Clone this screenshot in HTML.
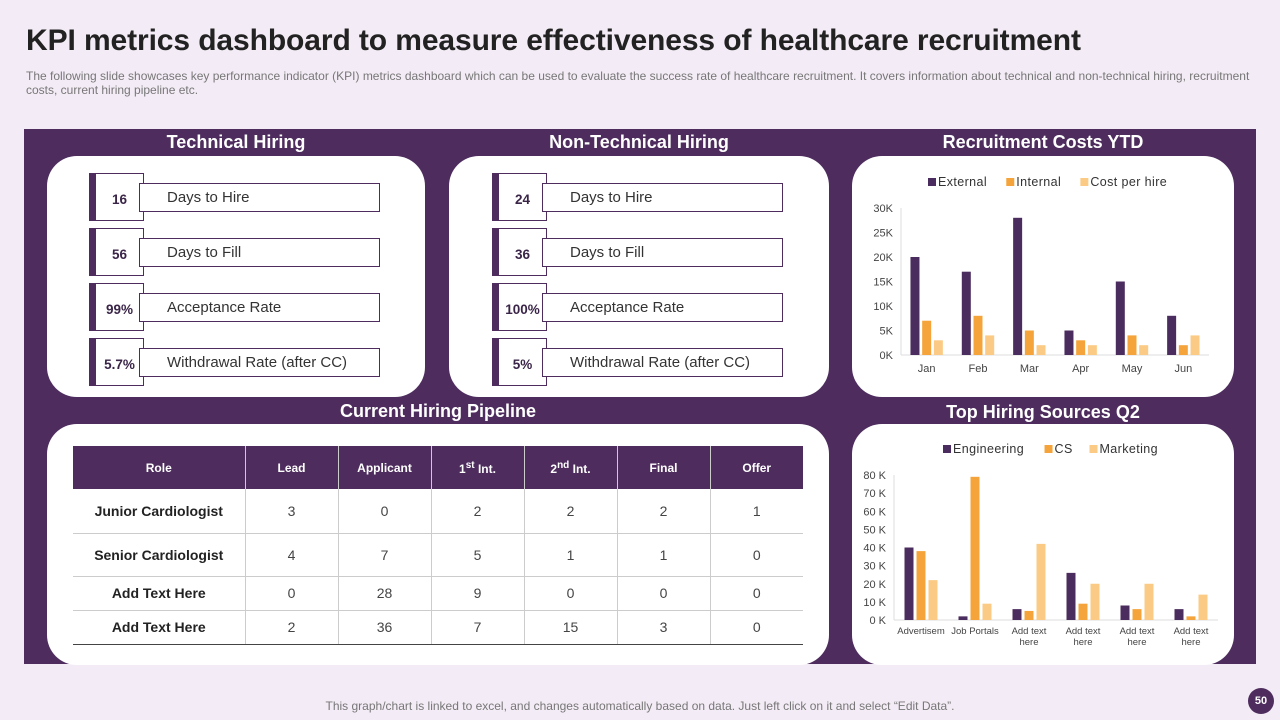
<!DOCTYPE html>
<html><head><meta charset="utf-8"><style>
*{margin:0;padding:0;box-sizing:border-box}
body{width:1280px;height:720px;background:#f3ebf5;font-family:"Liberation Sans",sans-serif;position:relative;overflow:hidden}
.abs{position:absolute}
h1{position:absolute;left:26px;top:24px;font-size:30px;font-weight:bold;color:#222;letter-spacing:-0.1px}
.sub{left:26px;top:69px;width:1240px;font-size:12px;color:#777;line-height:14px;white-space:nowrap}
.panel{left:24px;top:129px;width:1232px;height:535px;background:#4e2d5e}
.card{background:#fff;border-radius:30px}
.ttl{color:#fff;font-weight:bold;font-size:18px;text-align:center}
.num{width:55px;height:48px;border:1px solid #4e2d5e;border-left:7px solid #4e2d5e;background:#fff;font-weight:bold;font-size:13.5px;color:#3a2548;display:flex;align-items:center;justify-content:center;padding-top:4px}
.lab{width:241px;height:29px;border:1px solid #4e2d5e;background:#fff;font-size:15px;color:#333;padding-left:27px;line-height:27px}
table{border-collapse:collapse;position:absolute;left:73px;top:446px;width:730px;table-layout:fixed}
th{background:#4e2d5e;color:#fff;font-size:12px;height:43px;border-right:1px solid #ccc}
td{text-align:center;font-size:14px;color:#444;border-right:1px solid #ccc;border-bottom:1px solid #ccc}
td.r{font-weight:bold;color:#222}
tr:last-child td{border-bottom:1px solid #444}
.foot{left:0;width:1280px;top:699px;text-align:center;font-size:12px;color:#777}
.pg{left:1248px;top:688px;width:26px;height:26px;border-radius:50%;background:#4e2d5e;color:#fff;font-size:11px;font-weight:bold;text-align:center;line-height:26px}
</style></head><body>
<h1>KPI metrics dashboard to measure effectiveness of healthcare recruitment</h1>
<div class="abs sub">The following slide showcases key performance indicator (KPI) metrics dashboard which can be used to evaluate the success rate of healthcare recruitment. It covers information about technical and non-technical hiring, recruitment<br>costs, current hiring pipeline etc.</div>
<div class="abs panel"></div>

<div class="abs ttl" style="left:47px;top:132px;width:378px">Technical Hiring</div>
<div class="abs ttl" style="left:449px;top:132px;width:380px">Non-Technical Hiring</div>
<div class="abs ttl" style="left:852px;top:132px;width:382px">Recruitment Costs YTD</div>
<div class="abs ttl" style="left:47px;top:401px;width:782px">Current Hiring Pipeline</div>
<div class="abs ttl" style="left:852px;top:402px;width:382px">Top Hiring Sources Q2</div>

<div class="abs card" style="left:47px;top:156px;width:378px;height:241px"></div>
<div class="abs card" style="left:449px;top:156px;width:380px;height:241px"></div>
<div class="abs card" style="left:852px;top:156px;width:382px;height:241px"></div>
<div class="abs card" style="left:47px;top:424px;width:782px;height:241px"></div>
<div class="abs card" style="left:852px;top:424px;width:382px;height:241px"></div>

<div id="kpis"></div>

<table>
<colgroup><col style="width:172px"><col style="width:93px"><col style="width:93px"><col style="width:93px"><col style="width:93px"><col style="width:93px"><col style="width:93px"></colgroup>
<tr><th>Role</th><th>Lead</th><th>Applicant</th><th>1<sup>st</sup> Int.</th><th>2<sup>nd</sup> Int.</th><th>Final</th><th style="border-right:none">Offer</th></tr>
<tr style="height:44px"><td class="r">Junior Cardiologist</td><td>3</td><td>0</td><td>2</td><td>2</td><td>2</td><td style="border-right:none">1</td></tr>
<tr style="height:43px"><td class="r">Senior Cardiologist</td><td>4</td><td>7</td><td>5</td><td>1</td><td>1</td><td style="border-right:none">0</td></tr>
<tr style="height:34px"><td class="r">Add Text Here</td><td>0</td><td>28</td><td>9</td><td>0</td><td>0</td><td style="border-right:none">0</td></tr>
<tr style="height:34px"><td class="r">Add Text Here</td><td>2</td><td>36</td><td>7</td><td>15</td><td>3</td><td style="border-right:none">0</td></tr>
</table>

<svg class="abs" style="left:0;top:0" width="1280" height="720" id="charts"></svg>

<div class="abs foot">This graph/chart is linked to excel, and changes automatically based on data. Just left click on it and select “Edit Data”.</div>
<div class="abs pg">50</div>

<script>
const techValues=["16","56","99%","5.7%"];
const nonTechValues=["24","36","100%","5%"];
const kpiLabels=["Days to Hire","Days to Fill","Acceptance Rate","Withdrawal Rate (after CC)"];

const costMonths=["Jan","Feb","Mar","Apr","May","Jun"];
const costExternal=[20,17,28,5,15,8];
const costInternal=[7,8,5,3,4,2];
const costPerHire=[3,4,2,2,2,4];
const costTicks=[0,5,10,15,20,25,30];

const srcCats=[["Advertisem"],["Job Portals"],["Add text","here"],["Add text","here"],["Add text","here"],["Add text","here"]];
const srcEng=[40,2,6,26,8,6];
const srcCS=[38,79,5,9,6,2];
const srcMkt=[22,9,42,20,20,14];
const srcTicks=[0,10,20,30,40,50,60,70,80];

const kp=document.getElementById('kpis');
function kpiSet(x0,vals,prefix){
  vals.forEach((v,i)=>{
    const y=173+i*55;
    const n=document.createElement('div');
    n.className='abs num';n.style.left=x0+'px';n.style.top=y+'px';n.textContent=v;
    
    
    kp.appendChild(n);
    const l=document.createElement('div');
    l.className='abs lab';l.style.left=(x0+50)+'px';l.style.top=(y+10)+'px';l.textContent=kpiLabels[i];
    
    
    kp.appendChild(l);
  });
}
kpiSet(89,techValues,'technical');
kpiSet(492,nonTechValues,'non-technical');

const NS='http://www.w3.org/2000/svg';
const svg=document.getElementById('charts');
function mk(tag,attrs,name){const e=document.createElementNS(NS,tag);for(const k in attrs)e.setAttribute(k,attrs[k]);
  
  
  svg.appendChild(e);return e;}
const colors=['#4b2c5e','#f4a43a','#fbcb85'];

function chart(o){
  const yS=v=>o.y0-(v/o.max)*(o.y0-o.yTop);
  o.ticks.forEach(t=>{const tx=mk('text',{x:o.ax-8,y:yS(t)+4,'text-anchor':'end','font-size':11,fill:'#444','font-family':'Liberation Sans'},'y-tick');tx.textContent=t+o.suf;});
  mk('line',{x1:o.ax,y1:o.yTop,x2:o.ax,y2:o.y0,stroke:'#ddd'},'y-axis');
  mk('line',{x1:o.ax,y1:o.y0,x2:o.right,y2:o.y0,stroke:'#ddd'},'x-axis');
  const gw=(o.right-o.ax)/o.cats.length;
  o.series.forEach((s,si)=>s.forEach((v,i)=>{
    const cx=o.ax+gw*(i+0.5)+(si-1)*o.step;
    mk('rect',{x:cx-o.bw/2,y:yS(v),width:o.bw,height:o.y0-yS(v),fill:colors[si]},'bar-'+o.names[si].toLowerCase().replace(/ /g,'-')+'-'+i);
  }));
  o.cats.forEach((c,i)=>{const lines=Array.isArray(c)?c:[c];lines.forEach((ln,j)=>{
    const tx=mk('text',{x:o.ax+gw*(i+0.5),y:o.y0+o.lab+j*11,'text-anchor':'middle','font-size':o.fs,fill:'#444','font-family':'Liberation Sans'},'x-label');tx.textContent=ln;});});
  let lx=o.legX;
  o.names.forEach((n,si)=>{mk('rect',{x:lx,y:o.legY-8,width:8,height:8,fill:colors[si]},'legend-swatch');
    const t=mk('text',{x:lx+10,y:o.legY,'font-size':12.5,fill:'#333','font-family':'Liberation Sans','letter-spacing':'0.4'},'legend-entry');t.textContent=n;
    lx+=10+t.getComputedTextLength()+n.length*0.4+16;});
}
chart({cats:costMonths,series:[costExternal,costInternal,costPerHire],names:['External','Internal','Cost per hire'],ticks:costTicks,suf:'K',max:30,ax:901,right:1209,y0:355,yTop:208,bw:9,step:11.7,lab:17,fs:11,legX:928,legY:186});
chart({cats:srcCats,series:[srcEng,srcCS,srcMkt],names:['Engineering','CS','Marketing'],ticks:srcTicks,suf:' K',max:80,ax:894,right:1218,y0:620,yTop:475,bw:9,step:12,lab:14,fs:9.5,legX:943,legY:453});
</script>
</body></html>
